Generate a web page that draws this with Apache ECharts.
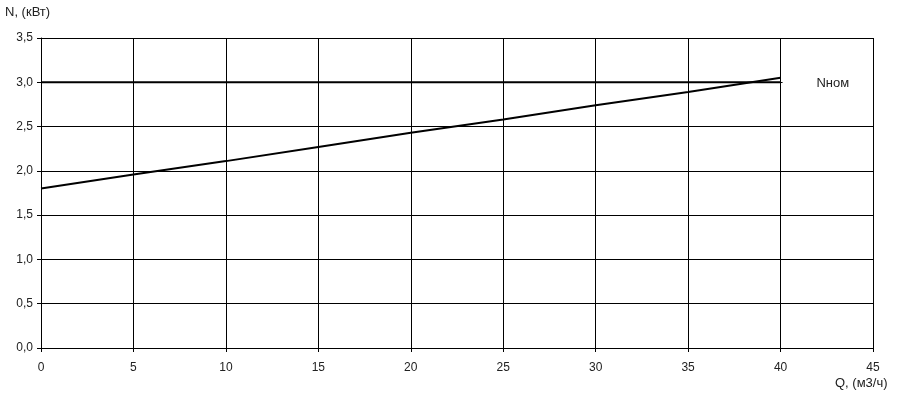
<!DOCTYPE html>
<html><head><meta charset="utf-8">
<script src="https://cdn.jsdelivr.net/npm/echarts@6/dist/echarts.min.js"></script>
<style>html,body{margin:0;padding:0;background:#fff}#c{width:901px;height:400px}</style>
</head><body><div id="c"></div>
<script>
const qValues = [0, 5, 10, 15, 20, 25, 30, 35, 40];
const powerValues = [1.80, 1.96, 2.11, 2.27, 2.43, 2.58, 2.74, 2.89, 3.05];
const nomValues = [3.0, 3.0, 3.0, 3.0, 3.0, 3.0, 3.0, 3.0, 3.0];
const nomLabel = 'Nном';
const yTitle = 'N, (кВт)';
const xTitle = 'Q, (м3/ч)';

const font = 'Liberation Sans, Arial, sans-serif';
const chart = echarts.init(document.getElementById('c'), null, {renderer: 'canvas'});
chart.setOption({
  animation: false,
  backgroundColor: '#fff',
  grid: {left: 41, right: 28, top: 38, bottom: 52, containLabel: false},
  xAxis: {
    type: 'value', min: 0, max: 45, interval: 5, z: 2,
    axisLine: {lineStyle: {color: '#000', width: 1}},
    axisTick: {show: true, length: 4, lineStyle: {color: '#000'}},
    axisLabel: {color: '#222', fontFamily: font, fontSize: 12, margin: 14},
    splitLine: {show: true, lineStyle: {color: '#000', width: 1}}
  },
  yAxis: {
    type: 'value', min: 0, max: 3.5, interval: 0.5, z: 0,
    axisLine: {show: true, lineStyle: {color: '#000', width: 1}},
    axisTick: {show: true, length: 4, lineStyle: {color: '#000'}},
    axisLabel: {color: '#222', fontFamily: font, fontSize: 12, margin: 8,
      formatter: v => v.toFixed(1).replace('.', ',')},
    splitLine: {show: true, lineStyle: {color: '#000', width: 1}}
  },
  series: [
    {type: 'line', data: qValues.map((q, i) => [q, nomValues[i]]), showSymbol: false,
      lineStyle: {color: '#000', width: 2}, z: 3},
    {type: 'line', data: qValues.map((q, i) => [q, powerValues[i]]), showSymbol: false,
      lineStyle: {color: '#000', width: 2}, z: 3}
  ]
});
const pA = chart.convertToPixel({gridIndex: 0}, [40, 3.25]);
const pB = chart.convertToPixel({gridIndex: 0}, [45, 2.75]);
chart.setOption({
  graphic: [
    {type: 'text', z: 4, left: 5, top: 6, style: {text: yTitle, fill: '#222', font: '13px ' + font}},
    {type: 'text', z: 4, left: 835, top: 377, style: {text: xTitle, fill: '#222', font: '13px ' + font}},
    {type: 'rect', z: 1, shape: {x: pA[0] + 2, y: pA[1], width: pB[0] - pA[0], height: pB[1] - pA[1]},
      style: {fill: '#fff'}},
    {type: 'text', z: 4, x: (pA[0] + pB[0]) / 2 + 6, y: chart.convertToPixel({gridIndex: 0}, [0, 3.0])[1] + 1,
      style: {text: nomLabel, fill: '#222', font: '13px ' + font, align: 'center', verticalAlign: 'middle'}}
  ]
});
</script></body></html>
